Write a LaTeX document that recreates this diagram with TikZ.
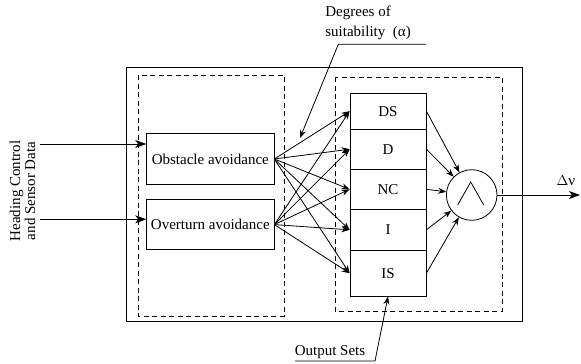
\documentclass[tikz,border=0pt]{standalone}
\usepackage{fontspec}
\setmainfont{Liberation Serif}
\usetikzlibrary{arrows.meta}
\begin{document}
\begin{tikzpicture}[x=1pt,y=-1pt,line width=.8pt,font=\fontsize{15}{17}\selectfont,
    box/.style={draw,inner sep=0pt,minimum width=127.3pt,minimum height=50.5pt},
    cell/.style={draw,inner sep=0pt,minimum width=76pt},
    dashbox/.style={dash pattern=on 5pt off 3.5pt},
    arr/.style={-{Stealth[length=8pt,width=6pt]}},
    bigarr/.style={-{Stealth[length=11pt,width=8pt,inset=3pt]}}]
  \useasboundingbox (0,0) rectangle (581,364);
  \draw (126.7,67.7) rectangle (522.3,321);
  \draw[dashbox] (138.3,75) rectangle (284,316);
  \draw[dashbox] (335,77.3) rectangle (502.3,311);
  \node[rotate=90,align=center,font=\fontsize{15}{15}\selectfont] (head) at (22.5,191) {Heading Control\\and Sensor Data};
  \node[box] (obst) at (210.3,159) {Obstacle avoidance};
  \node[box] (over) at (210.3,224.6) {Overturn avoidance};
  \node[cell,minimum height=35.7pt] (ds) at (388,111.2) {DS};
  \node[cell,minimum height=40.3pt] (d) at (388,149.2) {D};
  \node[cell,minimum height=40pt] (nc) at (388,189.3) {NC};
  \node[cell,minimum height=41pt] (i) at (388,229.8) {I};
  \node[cell,minimum height=45.7pt] (is) at (388,273.2) {IS};
  \node[draw,circle,minimum size=50.6pt] (circ) at (471.7,195) {};
  \draw ([shift={(-14,10)}]circ.center) -- ++(13,-23) -- ++(13,23);
  \coordinate (hin1) at (40,144);
  \coordinate (hin2) at (40,219.3);
  \draw[bigarr] (hin1) -- (hin1 -| obst.west);
  \draw[bigarr] (hin2) -- (hin2 -| over.west);
  \foreach \s in {obst,over}
    \foreach \t in {ds,d,nc,i,is}
      \draw[arr] (\s.east) -- (\t.west);
  \foreach \t in {ds,d,nc,i,is}
    \draw[arr] (\t.east) -- (circ);
  \coordinate (dvout) at (580,195);
  \draw[bigarr] (circ) -- (dvout);
  \node (dv) at (566,181) {$\Delta$ν};
  \node[align=left,anchor=north west,inner sep=0pt] (degr) at (325,6) {Degrees of\\[3pt]suitability\ \ (α)};
  \coordinate (dg1) at (426,44.3);
  \coordinate (dg2) at (338.3,44.3);
  \coordinate (dgtip) at (300,138);
  \draw[arr] (dg1) -- (dg2) -- (dgtip);
  \node (outs) at (330,352) {Output Sets};
  \coordinate (os1) at (295,361);
  \coordinate (os2) at (375,361);
  \draw[arr] (os1) -- (os2) -- (is.south);
\end{tikzpicture}
\end{document}
